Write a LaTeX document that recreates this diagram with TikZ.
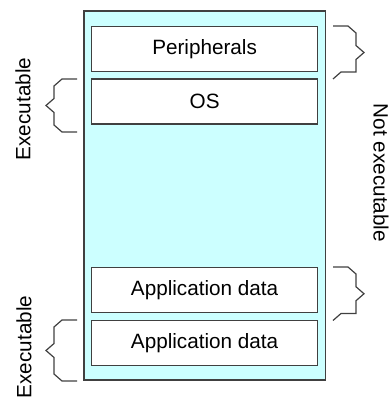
\documentclass[tikz,border=0pt]{standalone}
\usepackage{fontspec}
\setmainfont{Liberation Sans}
\usepackage{tikz}
\usetikzlibrary{calc}

\definecolor{memfill}{RGB}{204,255,255}
\definecolor{edge}{RGB}{64,64,64}

\tikzset{
  membox/.style={draw=edge,fill=white,line width=1.4pt,minimum width=226pt,minimum height=45pt,inner sep=0pt},
  memory/.style={draw=edge,fill=memfill,line width=1.4pt,inner sep=0pt},
  brace/.style={draw=edge,line width=1.2pt},
  lbl/.style={font=\fontsize{20.7}{24}\selectfont}
}

% curly bracket to the left of (#1)--(#2)
\newcommand{\curlyleft}[2]{%
  \draw[brace] (#1) -- ++(-15,0) -- ++(-8,7) -- ($(#1)!0.5!(#2)+(-23,-7)$) -- ++(-8,7) -- ++(8,7)
    -- ($(#2)+(-23,-7)$) -- ++(8,7) -- (#2);}
% curly bracket to the right of (#1)--(#2)
\newcommand{\curlyright}[2]{%
  \draw[brace] (#1) -- ++(15,0) -- ++(8,7) -- ($(#1)!0.5!(#2)+(23,-7)$) -- ++(8,7) -- ++(-8,7)
    -- ($(#2)+(23,-7)$) -- ++(-15,0) -- (#2);}

\begin{document}
\begin{tikzpicture}[x=1pt,y=-1pt]
  \useasboundingbox (0,0) rectangle (390,399);

  \node[memory,minimum width=241.5pt,minimum height=369pt] at (204.75,195.5) (mem) {};
  \node[membox,lbl] at (204.6,49) (periph) {Peripherals};
  \node[membox,lbl] at (204.6,101.5) (os) {OS};
  \node[membox,lbl] at (204.6,290) (appa) {Application data};
  \node[membox,lbl] at (204.6,343) (appb) {Application data};

  % brackets
  \coordinate (osT) at (77,79);
  \coordinate (osB) at (77,132);
  \coordinate (appbT) at (77,320);
  \coordinate (appbB) at (77,381);
  \coordinate (periphT) at (333,26);
  \coordinate (periphB) at (333,79);
  \coordinate (appaT) at (333,267);
  \coordinate (appaB) at (333,320.5);
  \curlyleft{osT}{osB}
  \curlyleft{appbT}{appbB}
  \curlyright{periphT}{periphB}
  \curlyright{appaT}{appaB}

  \node[lbl,rotate=90] at (23,109) (exa) {Executable};
  \node[lbl,rotate=90] at (24,347) (exb) {Executable};
  \node[lbl,rotate=-90] at (381,173) (notex) {Not executable};
\end{tikzpicture}
\end{document}
